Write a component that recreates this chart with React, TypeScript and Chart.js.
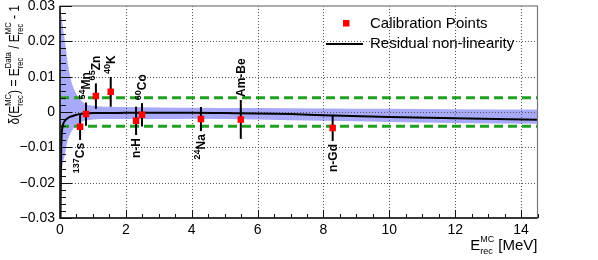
import React, { useEffect, useRef } from 'react';
import { Chart, registerables } from 'chart.js';

Chart.register(...registerables);

const FONT = '"Liberation Sans", Arial, Helvetica, sans-serif';

// ---- axis ranges / ticks ----
const X_MIN = 0;
const X_MAX = 14.5;
const Y_MIN = -0.03;
const Y_MAX = 0.03;
const X_MAJOR = 2;
const X_MINOR = 0.5;
const Y_MAJOR = 0.01;
const Y_MINOR = 0.002;
const xTickValues = [0, 2, 4, 6, 8, 10, 12, 14];

// ---- calibration points ----
const calibSup = ['137', '54', '65', '40', '', '60', '24', '', ''];
const calibElem = ['Cs', 'Mn', 'Zn', 'K', 'n-H', 'Co', 'Na', 'Am-Be', 'n-Gd'];
const calibSide = ['below', 'above', 'above', 'above', 'below', 'above', 'below', 'above', 'below'];
const calibE = [0.61, 0.79, 1.09, 1.54, 2.31, 2.49, 4.28, 5.49, 8.28];
const calibDelta = [-0.0042, -0.0006, 0.0045, 0.0057, -0.0025, -0.0008, -0.002, -0.0021, -0.0045];
const calibErr = [0.0037, 0.0033, 0.0036, 0.0042, 0.004, 0.0033, 0.0034, 0.0055, 0.0037];

// ---- residual non-linearity curve ----
const residE = [0.015, 0.025, 0.035, 0.05, 0.07, 0.1, 0.14, 0.2, 0.3, 0.45, 0.6, 0.8, 1, 1.5, 2, 3, 4, 5, 6, 7, 8, 10, 12, 14.5];
const residDelta = [-0.031, -0.02, -0.011, -0.0065, -0.0045, -0.0033, -0.0026, -0.002, -0.0014, -0.0009, -0.0006, -0.0004, -0.0003, -0.0003, -0.0002, -0.0002, -0.0002, -0.0003, -0.0004, -0.0006, -0.0009, -0.0014, -0.0018, -0.0022];

// ---- uncertainty band ----
const bandE = [0, 0.03, 0.06, 0.1, 0.15, 0.2, 0.25, 0.35, 0.45, 0.6, 0.8, 1.0, 1.5, 2, 3, 4, 6, 8, 10, 12, 14.5];
const bandUpper = [0.03, 0.028, 0.026, 0.023, 0.02, 0.0165, 0.013, 0.0085, 0.006, 0.0037, 0.0022, 0.0018, 0.0015, 0.0014, 0.0013, 0.0012, 0.0011, 0.001, 0.0009, 0.0008, 0.0007];
const bandLower = [-0.018, -0.0175, -0.016, -0.014, -0.012, -0.0095, -0.0075, -0.0055, -0.0042, -0.003, -0.0024, -0.0021, -0.002, -0.002, -0.002, -0.0019, -0.0021, -0.0025, -0.0028, -0.0031, -0.0033];

// ---- +-0.4% limits ----
const limitValue = 0.004;

const legendLabels = ['Calibration Points', 'Residual non-linearity'];

type Piece =
  | { kind: 'n'; text: string; size: number; bold?: boolean; dy?: number }
  | { kind: 'ss'; sub: string; sup: string; size: number; subDy: number; supDy: number };

function fontOf(size: number, bold?: boolean) {
  return `${bold ? 'bold ' : ''}${size}px ${FONT}`;
}

function drawPieces(ctx: CanvasRenderingContext2D, pieces: Piece[], x: number, y: number, align: 'left' | 'right') {
  ctx.textBaseline = 'alphabetic';
  ctx.textAlign = 'left';
  const widths = pieces.map((p) => {
    if (p.kind === 'n') {
      ctx.font = fontOf(p.size, p.bold);
      return ctx.measureText(p.text).width;
    }
    ctx.font = fontOf(p.size);
    return Math.max(ctx.measureText(p.sub).width, ctx.measureText(p.sup).width);
  });
  const total = widths.reduce((a, b) => a + b, 0);
  let cx = align === 'left' ? x : x - total;
  pieces.forEach((p, i) => {
    if (p.kind === 'n') {
      ctx.font = fontOf(p.size, p.bold);
      ctx.fillText(p.text, cx, y + (p.dy || 0));
    } else {
      ctx.font = fontOf(p.size);
      ctx.fillText(p.sup, cx, y + p.supDy);
      ctx.fillText(p.sub, cx, y + p.subDy);
    }
    cx += widths[i];
  });
}

const decorPlugin = {
  id: 'decor',
  afterDatasetDraw(chart: any, args: any) {
    const ctx: CanvasRenderingContext2D = chart.ctx;
    const xs = chart.scales.x;
    const ys = chart.scales.y;
    const ca = chart.chartArea;
    if (args.index === 5) {
      // grid (drawn over the band)
      ctx.save();
      ctx.strokeStyle = '#555';
      ctx.lineWidth = 1;
      ctx.setLineDash([1, 2]);
      const nx = Math.round((X_MAX - X_MIN) / X_MAJOR);
      for (let k = 1; k <= nx; k++) {
        const v = X_MIN + k * X_MAJOR;
        if (v > X_MAX) break;
        const px = Math.round(xs.getPixelForValue(v)) + 0.5;
        ctx.beginPath();
        ctx.moveTo(px, ca.top);
        ctx.lineTo(px, ca.bottom);
        ctx.stroke();
      }
      const ny = Math.round((Y_MAX - Y_MIN) / Y_MAJOR);
      for (let k = 1; k < ny; k++) {
        const v = Y_MIN + k * Y_MAJOR;
        const py = Math.round(ys.getPixelForValue(v)) + 0.5;
        ctx.beginPath();
        ctx.moveTo(ca.left, py);
        ctx.lineTo(ca.right, py);
        ctx.stroke();
      }
      ctx.restore();
    }
    if (args.index === 1) {
      // error bars
      ctx.save();
      ctx.strokeStyle = '#000';
      ctx.lineWidth = 2;
      calibE.forEach((e, i) => {
        const px = xs.getPixelForValue(e);
        ctx.beginPath();
        ctx.moveTo(px, ys.getPixelForValue(calibDelta[i] + calibErr[i]));
        ctx.lineTo(px, ys.getPixelForValue(calibDelta[i] - calibErr[i]));
        ctx.stroke();
      });
      ctx.restore();
    }
  },
  afterDraw(chart: any) {
    const ctx: CanvasRenderingContext2D = chart.ctx;
    const xs = chart.scales.x;
    const ys = chart.scales.y;
    const ca = chart.chartArea;
    ctx.save();
    ctx.fillStyle = '#000';

    // point labels (rotated)
    const gap = 3;
    calibE.forEach((e, i) => {
      const px = xs.getPixelForValue(e);
      const above = calibSide[i] === 'above';
      const yv = above ? calibDelta[i] + calibErr[i] : calibDelta[i] - calibErr[i];
      const py = ys.getPixelForValue(yv) + (above ? -gap : gap);
      const pieces: Piece[] = [];
      if (calibSup[i]) pieces.push({ kind: 'n', text: calibSup[i], size: 9, bold: true, dy: -5 });
      pieces.push({ kind: 'n', text: calibElem[i], size: 12, bold: true });
      ctx.save();
      ctx.translate(px, py);
      ctx.rotate(-Math.PI / 2);
      drawPieces(ctx, pieces, 0, 4.3, above ? 'left' : 'right');
      ctx.restore();
    });

    // legend
    const lx = ca.left + 266;
    ctx.fillStyle = '#ff0000';
    ctx.fillRect(lx + 17, ca.top + 14, 6.5, 6.5);
    ctx.strokeStyle = '#000';
    ctx.lineWidth = 2;
    ctx.beginPath();
    ctx.moveTo(lx, ca.top + 38);
    ctx.lineTo(lx + 37, ca.top + 38);
    ctx.stroke();
    ctx.fillStyle = '#000';
    ctx.font = fontOf(15);
    ctx.textAlign = 'left';
    ctx.textBaseline = 'middle';
    ctx.fillText(legendLabels[0], lx + 44, ca.top + 17.5);
    ctx.fillText(legendLabels[1], lx + 44, ca.top + 38);

    // frame
    ctx.strokeStyle = '#777';
    ctx.lineWidth = 1.2;
    ctx.strokeRect(ca.left, ca.top, ca.right - ca.left, ca.bottom - ca.top);
    ctx.strokeStyle = '#111';
    ctx.lineWidth = 1.5;
    ctx.beginPath();
    ctx.moveTo(ca.left, ca.top);
    ctx.lineTo(ca.left, ca.bottom);
    ctx.lineTo(ca.right, ca.bottom);
    ctx.stroke();

    // ticks
    ctx.lineWidth = 1;
    ctx.strokeStyle = '#111';
    const nxm = Math.round((X_MAX - X_MIN) / X_MINOR);
    for (let k = 0; k <= nxm; k++) {
      const v = X_MIN + k * X_MINOR;
      const major = Math.abs(v / X_MAJOR - Math.round(v / X_MAJOR)) < 1e-6;
      const px = Math.round(xs.getPixelForValue(v)) + 0.5;
      const len = major ? 8 : 4;
      ctx.beginPath();
      ctx.moveTo(px, ca.bottom);
      ctx.lineTo(px, ca.bottom - len);
      ctx.stroke();
    }
    const nym = Math.round((Y_MAX - Y_MIN) / Y_MINOR);
    for (let k = 0; k <= nym; k++) {
      const v = Y_MIN + k * Y_MINOR;
      const major = Math.abs(v / Y_MAJOR - Math.round(v / Y_MAJOR)) < 1e-6;
      const py = Math.round(ys.getPixelForValue(v)) + 0.5;
      const len = major ? 12 : 6;
      ctx.beginPath();
      ctx.moveTo(ca.left, py);
      ctx.lineTo(ca.left + len, py);
      ctx.stroke();
    }

    // axis titles
    ctx.fillStyle = '#000';
    drawPieces(
      ctx,
      [
        { kind: 'n', text: 'E', size: 15 },
        { kind: 'ss', sub: 'rec', sup: 'MC', size: 9, subDy: 4, supDy: -8 },
        { kind: 'n', text: ' [MeV]', size: 15 },
      ],
      ca.right,
      250,
      'right'
    );
    ctx.save();
    ctx.translate(19, ca.top - 1);
    ctx.rotate(-Math.PI / 2);
    ctx.scale(0.8, 1);
    drawPieces(
      ctx,
      [
        { kind: 'n', text: '\u03b4(E', size: 15 },
        { kind: 'ss', sub: 'rec', sup: 'MC', size: 9.5, subDy: 3.5, supDy: -8.5 },
        { kind: 'n', text: ') = E', size: 15 },
        { kind: 'ss', sub: 'rec', sup: 'Data', size: 9.5, subDy: 3.5, supDy: -8.5 },
        { kind: 'n', text: ' / E', size: 15 },
        { kind: 'ss', sub: 'rec', sup: 'MC', size: 9.5, subDy: 3.5, supDy: -8.5 },
        { kind: 'n', text: ' - 1', size: 15 },
      ],
      0,
      0,
      'right'
    );
    ctx.restore();
    ctx.restore();
  },
};

function fmtY(v: number) {
  const r = Math.round(v * 100) / 100;
  if (Math.abs(r) < 1e-9) return '0';
  return (r < 0 ? '\u2212' : '') + Math.abs(r).toFixed(2);
}

export default function App() {
  const ref = useRef<HTMLCanvasElement>(null);
  useEffect(() => {
    document.body.style.margin = '0';
    const canvas = ref.current!;
    const green = '#22a022';
    const chart = new Chart(canvas, {
      type: 'line',
      data: {
        datasets: [
          {
            label: legendLabels[0],
            data: calibE.map((x, i) => ({ x, y: calibDelta[i] })),
            showLine: false,
            pointStyle: 'rect',
            pointRadius: 4.6,
            pointBackgroundColor: '#ff0000',
            pointBorderWidth: 0,
            backgroundColor: '#ff0000',
            borderWidth: 0,
          },
          {
            label: legendLabels[1],
            data: residE.map((x, i) => ({ x, y: residDelta[i] })),
            borderColor: '#000',
            borderWidth: 2,
            pointRadius: 0,
            cubicInterpolationMode: 'monotone',
            fill: false,
          },
          {
            label: 'limit+',
            data: [
              { x: X_MIN, y: limitValue },
              { x: X_MAX, y: limitValue },
            ],
            borderColor: green,
            borderWidth: 3,
            borderDash: [9, 5],
            pointRadius: 0,
            fill: false,
          },
          {
            label: 'limit-',
            data: [
              { x: X_MIN, y: -limitValue },
              { x: X_MAX, y: -limitValue },
            ],
            borderColor: green,
            borderWidth: 3,
            borderDash: [9, 5],
            pointRadius: 0,
            fill: false,
          },
          {
            label: 'bandLower',
            data: bandE.map((x, i) => ({ x, y: bandLower[i] })),
            borderWidth: 0,
            borderColor: 'rgba(0,0,0,0)',
            pointRadius: 0,
            cubicInterpolationMode: 'monotone',
            fill: false,
          },
          {
            label: 'bandUpper',
            data: bandE.map((x, i) => ({ x, y: bandUpper[i] })),
            borderWidth: 0,
            borderColor: 'rgba(0,0,0,0)',
            backgroundColor: '#a9a9fa',
            pointRadius: 0,
            cubicInterpolationMode: 'monotone',
            fill: 4,
          },
        ],
      },
      options: {
        animation: false,
        responsive: false,
        devicePixelRatio: 1,
        layout: { padding: { left: 0, top: 6, right: 60.5, bottom: 0 } },
        plugins: { legend: { display: false }, tooltip: { enabled: false } },
        scales: {
          x: {
            type: 'linear',
            min: X_MIN,
            max: X_MAX,
            grid: { display: false, drawTicks: false, tickLength: 0 },
            border: { display: false },
            ticks: {
              color: '#000',
              padding: 4,
              font: { family: FONT, size: 14 },
              maxRotation: 0,
              autoSkip: false,
              callback: (v: any) => String(Math.round(Number(v))),
            },
            afterBuildTicks: (s: any) => {
              s.ticks = xTickValues.map((v) => ({ value: v }));
            },
            afterFit: (s: any) => {
              s.height = 42;
              s.paddingLeft = 0;
              s.paddingRight = 0;
            },
          },
          y: {
            type: 'linear',
            min: Y_MIN,
            max: Y_MAX,
            grid: { display: false, drawTicks: false, tickLength: 0 },
            border: { display: false },
            ticks: {
              stepSize: Y_MAJOR,
              color: '#000',
              padding: 5,
              font: { family: FONT, size: 14 },
              callback: (v: any) => fmtY(Number(v)),
            },
            afterFit: (s: any) => {
              s.width = 60;
              s.paddingTop = 0;
              s.paddingBottom = 0;
            },
          },
        },
      },
      plugins: [decorPlugin],
    } as any);
    return () => chart.destroy();
  }, []);
  return (
    <div style={{ width: 598, height: 260 }}>
      <canvas ref={ref} width={598} height={260} style={{ display: 'block' }} />
    </div>
  );
}
